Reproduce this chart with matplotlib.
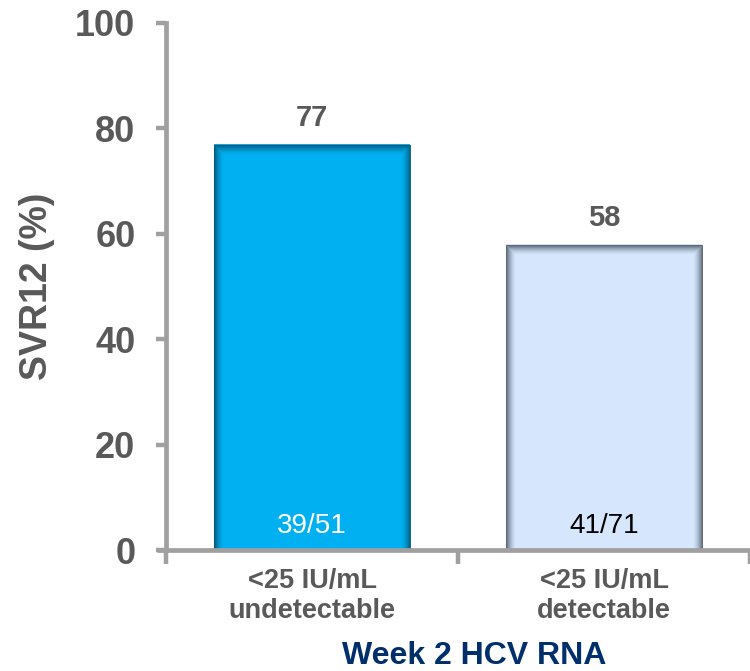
import matplotlib.pyplot as plt
from matplotlib.patches import Rectangle

plt.rcParams['font.family'] = ['Liberation Sans', 'DejaVu Sans']

categories = ["<25 IU/mL\nundetectable", "<25 IU/mL\ndetectable"]
svr12 = [77, 58]
counts = ["39/51", "41/71"]
y_ticks = [0, 20, 40, 60, 80, 100]

face_colors = ["#00B0F0", "#D5E6FD"]
shade_colors = ["#004E6B", "#4A5562"]
count_colors = ["white", "black"]
gray = "#595959"
axis_gray = "#A0A0A0"

fig = plt.figure(figsize=(7.5, 6.71), dpi=100)
ax = fig.add_axes([166 / 750, 121 / 671, 584 / 750, 527 / 671])
ax.set_xlim(-0.5, 1.5)
ax.set_ylim(0, 100)

x = list(range(len(categories)))
width = 0.672
ax.bar(x, svr12, width, color=face_colors, zorder=2)

# soft inner shadow along bar edges
px_x = (ax.get_xlim()[1] - ax.get_xlim()[0]) / 584
px_y = (ax.get_ylim()[1] - ax.get_ylim()[0]) / 527
n = 10
for xi, h, sc in zip(x, svr12, shade_colors):
    for k in range(n):
        a = 0.85 * (1 - k / n) ** 1.8
        rect = Rectangle((xi - width / 2 + (k + 0.5) * px_x, 0),
                         width - (2 * k + 1) * px_x, h - (k + 0.5) * px_y,
                         fill=False, edgecolor=sc, linewidth=0.75, alpha=a, zorder=3)
        ax.add_patch(rect)

for xi, h, c, cc in zip(x, svr12, counts, count_colors):
    ax.annotate(str(h), (xi, h), xytext=(0, 9), textcoords="offset points",
                ha="center", va="bottom", fontsize=21, fontweight="bold", color=gray)
    ax.text(xi, 4.6, c, ha="center", va="center", fontsize=20, color=cc, zorder=4)

for s in ["top", "right", "bottom"]:
    ax.spines[s].set_visible(False)
ax.spines["left"].set_color(axis_gray)
ax.spines["left"].set_linewidth(3.4)
ax.spines["left"].set_zorder(5)
ax.plot([-0.532, 1.5], [0, 0], color=axis_gray, lw=3.4, clip_on=False, zorder=5,
        solid_capstyle="butt")

ax.set_yticks(y_ticks)
ax.tick_params(axis="y", length=7, width=3.2, color=axis_gray, pad=15,
               labelsize=26, labelcolor=gray)
for t in ax.get_yticklabels():
    t.set_fontweight("bold")

ax.set_xticks(x)
ax.set_xticklabels(categories, fontsize=19.5, fontweight="bold", color=gray, linespacing=1.2)
ax.tick_params(axis="x", which="major", length=0, pad=13)
ax.set_xticks([-0.5, 0.5, 1.5], minor=True)
ax.tick_params(axis="x", which="minor", length=10, width=3.2, color=axis_gray)

ax.text(-0.221, 0.5, "SVR12 (%)", transform=ax.transAxes, rotation=90,
        ha="center", va="center", fontsize=27, fontweight="bold", color=gray)
fig.text(474 / 750, 1 - 656 / 671, "Week 2 HCV RNA", ha="center", va="center",
         fontsize=23, fontweight="bold", color="#002F6C")

fig.savefig("out.png", dpi=100)
